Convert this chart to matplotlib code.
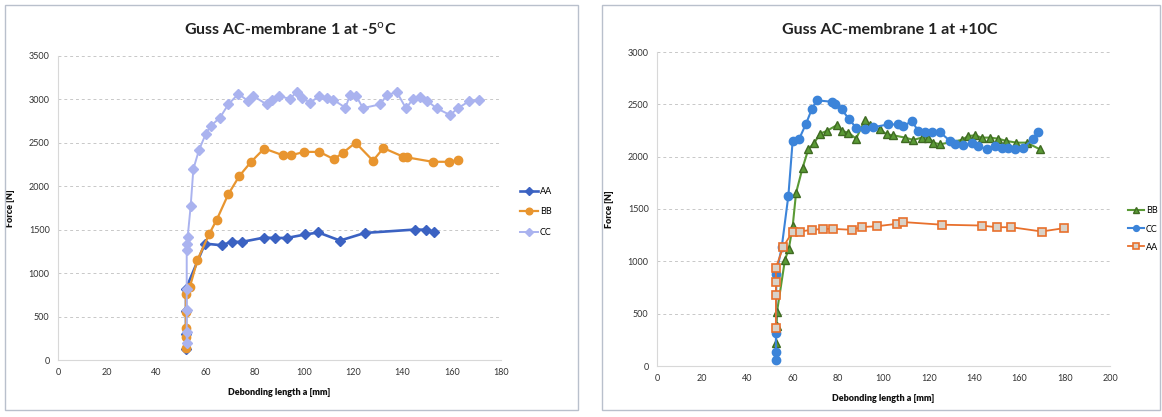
import matplotlib
matplotlib.use("Agg")
import matplotlib.pyplot as plt
from matplotlib.patches import Rectangle

plt.rcParams['font.family'] = ['Lato', 'DejaVu Sans']

# -5C test
cold_aa_x = [52, 52, 52, 52, 59.7, 66.5, 70.6, 74.6, 83.7, 88.2, 93.0, 100.4, 105.8, 114.6, 124.7, 145.1, 149.5, 152.8]
cold_aa_y = [130, 300, 560, 820, 1340, 1321, 1362, 1359, 1409, 1405, 1405, 1445, 1468, 1375, 1463, 1502, 1500, 1475]

cold_bb_x = [52, 52, 52, 52, 52, 53.6, 56.6, 61.5, 64.5, 69.2, 73.7, 78.4, 83.8, 91.3, 94.7, 100.1, 106.2, 112.1,
             115.7, 120.9, 128.0, 132.2, 140.3, 142.0, 152.2, 159.0, 162.4]
cold_bb_y = [135, 268, 364, 555, 765, 842, 1148, 1454, 1615, 1909, 2119, 2280, 2435, 2358, 2358, 2396, 2396, 2312,
             2384, 2502, 2294, 2440, 2340, 2332, 2282, 2282, 2302]

cold_cc_x = [52.3, 52.3, 52.3, 52.3, 52.3, 52.5, 52.7, 53.9, 55.0, 57.3, 60.0, 62.0, 65.8, 69.2, 73.3, 77.3, 79.4,
             84.8, 86.8, 89.8, 94.3, 97.0, 99.0, 102.4, 106.1, 109.2, 111.9, 116.8, 118.6, 121.2, 123.9, 130.8,
             133.6, 137.6, 141.4, 144.1, 147.1, 150.1, 153.9, 159.3, 162.4, 167.1, 171.2]
cold_cc_y = [190, 325, 575, 823, 1262, 1340, 1420, 1770, 2199, 2419, 2600, 2694, 2789, 2943, 3064, 2981, 3038,
             2943, 2993, 3038, 3007, 3088, 3019, 2962, 3038, 3019, 2995, 2905, 3048, 3038, 2900, 2943,
             3046, 3088, 2897, 3000, 3031, 2981, 2897, 2821, 2897, 2981, 2989]

# +10C test
warm_bb_x = [52.5, 52.8, 53.0, 56.5, 58.2, 59.9, 61.4, 64.3, 66.8, 69.5, 72.0, 74.9, 79.3, 81.5, 84.5, 87.9, 91.8,
             94.0, 98.5, 101.4, 104.4, 109.5, 113.2, 116.9, 119.8, 122.0, 125.0, 134.5, 137.4, 140.4, 143.3,
             147.0, 150.6, 154.3, 158.7, 163.2, 169.1]
warm_bb_y = [218, 380, 520, 1016, 1120, 1335, 1655, 1895, 2070, 2134, 2220, 2245, 2300, 2245, 2230, 2172, 2350,
             2300, 2260, 2213, 2204, 2182, 2160, 2182, 2182, 2134, 2118, 2160, 2197, 2204, 2182,
             2182, 2172, 2150, 2134, 2134, 2070]

warm_cc_x = [52.5, 52.5, 52.5, 52.7, 55.1, 58.0, 59.9, 62.8, 65.8, 68.3, 70.5, 77.1, 78.6, 81.5, 84.9, 87.9, 91.8,
             95.5, 102.2, 106.6, 108.8, 112.5, 115.4, 118.3, 121.3, 125.0, 129.4, 131.6, 135.0, 139.0, 141.9,
             145.6, 149.2, 152.2, 155.1, 158.1, 161.5, 166.2, 168.4]
warm_cc_y = [58, 138, 314, 880, 1141, 1627, 2153, 2172, 2314, 2452, 2538, 2525, 2500, 2452, 2356, 2276, 2260,
             2282, 2308, 2308, 2292, 2340, 2244, 2235, 2235, 2232, 2150, 2118, 2108, 2127, 2102,
             2070, 2102, 2086, 2080, 2070, 2080, 2172, 2236]

warm_aa_x = [52.5, 52.5, 52.5, 52.5, 55.8, 59.9, 63.1, 68.3, 73.4, 77.9, 86.0, 90.4, 97.0, 105.8, 108.8, 125.7,
             143.3, 149.9, 156.5, 169.8, 179.7]
warm_aa_y = [360, 680, 800, 940, 1141, 1285, 1285, 1301, 1310, 1310, 1301, 1328, 1335, 1358, 1375, 1350,
             1342, 1326, 1326, 1285, 1317]

fig = plt.figure(figsize=(11.62, 4.17), dpi=100)

# chart frames
for x0, x1 in [(5, 578), (602, 1160)]:
    fig.add_artist(Rectangle((x0 / 1162, 1 - 410 / 417), (x1 - x0) / 1162, 405 / 417,
                             transform=fig.transFigure, fill=False, edgecolor="#b9c0cc", lw=1.0))


def style_axes(ax, xmax, xstep, ymax, ystep):
    ax.set_xlim(0, xmax)
    ax.set_ylim(0, ymax)
    ax.set_xticks(range(0, xmax + 1, xstep))
    ax.set_yticks(range(0, ymax + 1, ystep))
    ax.grid(axis="y", color="#c8c8c8", lw=0.7, ls=(0, (3, 3)))
    ax.set_axisbelow(True)
    for s in ["top", "right"]:
        ax.spines[s].set_visible(False)
    ax.spines["left"].set_color("#d8d8d8")
    ax.spines["bottom"].set_color("#d8d8d8")
    ax.tick_params(length=0, labelsize=6.5, colors="#333333", pad=6)
    ax.set_xlabel("Debonding length a [mm]", fontsize=6.5, fontweight="heavy", color="#111111", labelpad=8)
    ax.set_ylabel("Force [N]", fontsize=6.5, fontweight="heavy", color="#111111", labelpad=10)


# left chart
ax1 = fig.add_axes([58 / 1162, 1 - 360 / 417, 443 / 1162, 304 / 417])
ax1.plot(cold_aa_x, cold_aa_y, color="#3b62c2", lw=1.9, marker="D", ms=5, label="AA")
ax1.plot(cold_bb_x, cold_bb_y, color="#e8952f", lw=1.6, marker="o", ms=6, label="BB")
ax1.plot(cold_cc_x, cold_cc_y, color="#aab3ef", lw=1.4, marker="D", ms=5, label="CC")
style_axes(ax1, 180, 20, 3500, 500)
fig.text(290 / 1162, 1 - 30 / 417, "Guss AC-membrane 1 at -5$^{\\mathrm{o}}$C", ha="center", va="center",
         fontsize=11.5, fontweight="bold", color="#222222")
ax1.legend(loc="center left", bbox_to_anchor=(520 / 1162, 1 - 212 / 417), bbox_transform=fig.transFigure,
           frameon=False, fontsize=6.5, handlelength=2.0, handletextpad=0.2, labelspacing=1.3, markerscale=0.8,
           borderpad=0, borderaxespad=0)

# right chart
ax2 = fig.add_axes([657 / 1162, 1 - 366 / 417, 453 / 1162, 314 / 417])
ax2.plot(warm_bb_x, warm_bb_y, color="#5a9a35", lw=1.5, marker="^", ms=6, mec="#3f6a22", label="BB")
ax2.plot(warm_cc_x, warm_cc_y, color="#3c84d9", lw=1.5, marker="o", ms=6, label="CC")
ax2.plot(warm_aa_x, warm_aa_y, color="#e8702c", lw=1.3, marker="s", ms=6, mfc="#d9d2c8", mec="#e8702c",
         mew=1.2, label="AA")
style_axes(ax2, 200, 20, 3000, 500)
fig.text(890 / 1162, 1 - 30 / 417, "Guss AC-membrane 1 at +10C", ha="center", va="center",
         fontsize=11.5, fontweight="bold", color="#222222")
ax2.legend(loc="center left", bbox_to_anchor=(1128 / 1162, 1 - 229 / 417), bbox_transform=fig.transFigure,
           frameon=False, fontsize=6.5, handlelength=1.8, handletextpad=0.2, labelspacing=1.0, markerscale=0.7,
           borderpad=0, borderaxespad=0)

fig.savefig("out.png", dpi=100, facecolor="white")
